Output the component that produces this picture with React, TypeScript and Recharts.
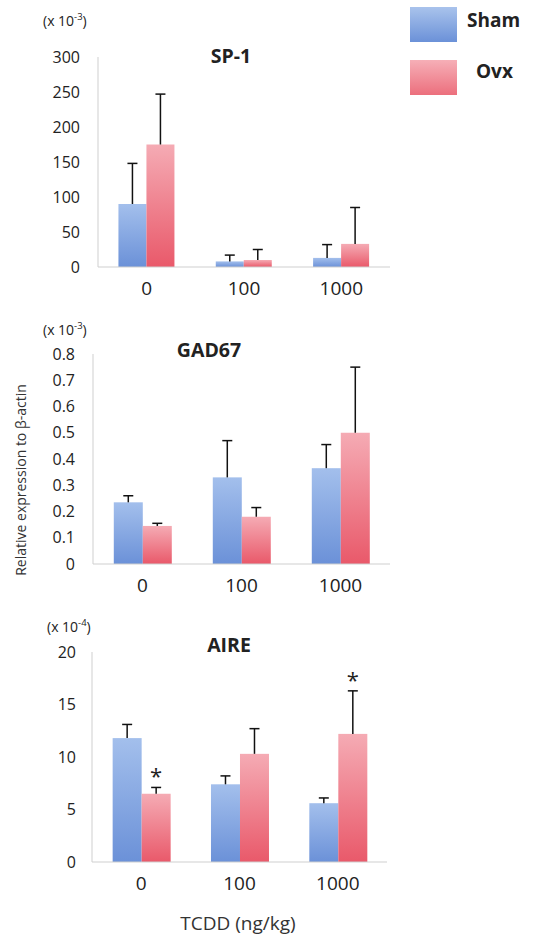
import React from "react";
import { BarChart, Bar, XAxis, YAxis } from "recharts";

const doses = ["0", "100", "1000"];

const sp1Sham = [90, 8, 13];
const sp1ShamSd = [58, 9, 19];
const sp1Ovx = [175, 10, 33];
const sp1OvxSd = [72, 15, 52];
const sp1Ticks = [0, 50, 100, 150, 200, 250, 300];

const gadSham = [0.235, 0.33, 0.365];
const gadShamSd = [0.025, 0.14, 0.09];
const gadOvx = [0.145, 0.18, 0.5];
const gadOvxSd = [0.01, 0.035, 0.25];
const gadTicks = [0, 0.1, 0.2, 0.3, 0.4, 0.5, 0.6, 0.7, 0.8];

const aireSham = [11.8, 7.4, 5.6];
const aireShamSd = [1.3, 0.8, 0.5];
const aireOvx = [6.5, 10.3, 12.2];
const aireOvxSd = [0.6, 2.4, 4.1];
const aireOvxSig = [true, false, true];
const aireTicks = [0, 5, 10, 15, 20];

const FONT = "'Open Sans', Lato, sans-serif";
const AXIS = "#cfcfcf";

function buildRows(sham, shamSd, ovx, ovxSd, sig?) {
  return doses.map((d, i) => ({
    dose: d,
    sham: sham[i],
    shamSd: shamSd[i],
    ovx: ovx[i],
    ovxSd: ovxSd[i],
    sig: sig ? sig[i] : false,
  }));
}

// bar rect + upward error whisker (scaled from the bar's own pixel height)
function barWithError(sdKey: string, fillId: string, withStar: boolean) {
  return (props: any) => {
    const { x, y, width, height, payload, value } = props;
    const v = Array.isArray(value) ? value[1] - value[0] : value;
    const ppu = v ? height / v : 0;
    const cx = x + width / 2;
    const top = y - payload[sdKey] * ppu;
    return (
      <g>
        <rect x={x} y={y} width={width} height={height} fill={`url(#${fillId})`} />
        <line x1={cx} x2={cx} y1={y} y2={top} stroke="#111" strokeWidth={1.5} />
        <line x1={cx - 5} x2={cx + 5} y1={top} y2={top} stroke="#111" strokeWidth={1.5} />
        {withStar && payload.sig && (
          <text x={cx} y={top - 3} textAnchor="middle" fontSize={22} fontFamily={FONT} fill="#222">
            *
          </text>
        )}
      </g>
    );
  };
}

function Grads({ id }: { id: string }) {
  return (
    <defs>
      <linearGradient id={`blue-${id}`} x1="0" y1="0" x2="0" y2="1">
        <stop offset="0%" stopColor="#a3bfec" />
        <stop offset="100%" stopColor="#6b91d8" />
      </linearGradient>
      <linearGradient id={`pink-${id}`} x1="0" y1="0" x2="0" y2="1">
        <stop offset="0%" stopColor="#f5abb4" />
        <stop offset="100%" stopColor="#e9596a" />
      </linearGradient>
    </defs>
  );
}

type PanelProps = {
  id: string;
  top: number;
  rows: any[];
  ticks: number[];
  margin: { top: number; right: number; bottom: number; left: number };
  tickGap: number;
};

function Panel({ id, top, rows, ticks, margin, tickGap }: PanelProps) {
  return (
    <div style={{ position: "absolute", left: 0, top }}>
      <BarChart
        width={550}
        height={300}
        data={rows}
        margin={margin}
        barCategoryGap="21%"
        barGap={0}
      >
        <Grads id={id} />
        <XAxis
          dataKey="dose"
          height={30}
          tickLine={false}
          tickSize={0}
          tickMargin={15}
          axisLine={{ stroke: AXIS }}
          tick={{ fill: "#222", fontSize: 19, fontFamily: FONT }}
        />
        <YAxis
          width={50}
          domain={[ticks[0], ticks[ticks.length - 1]]}
          ticks={ticks}
          interval={0}
          tickLine={false}
          tickSize={0}
          tickMargin={tickGap}
          axisLine={{ stroke: AXIS }}
          tick={{ fill: "#222", fontSize: 16, fontFamily: FONT }}
        />
        <Bar
          dataKey="sham"
          name="Sham"
          fill="#8aaee2"
          isAnimationActive={false}
          shape={barWithError("shamSd", `blue-${id}`, false)}
        />
        <Bar
          dataKey="ovx"
          name="Ovx"
          fill="#f08a96"
          isAnimationActive={false}
          shape={barWithError("ovxSd", `pink-${id}`, true)}
        />
      </BarChart>
    </div>
  );
}

function Unit({ x, y, exp }: { x: number; y: number; exp: string }) {
  return (
    <text x={x} y={y} fontSize={14} fontFamily={FONT} fill="#222">
      (x 10
      <tspan fontSize={9.5} dy={-6}>
        {exp}
      </tspan>
      <tspan dy={6}>)</tspan>
    </text>
  );
}

export default function App() {
  const sp1 = buildRows(sp1Sham, sp1ShamSd, sp1Ovx, sp1OvxSd);
  const gad = buildRows(gadSham, gadShamSd, gadOvx, gadOvxSd);
  const aire = buildRows(aireSham, aireShamSd, aireOvx, aireOvxSd, aireOvxSig);

  return (
    <div
      style={{
        position: "absolute",
        left: 0,
        top: 0,
        width: 550,
        height: 945,
        background: "#fff",
        fontFamily: FONT,
      }}
    >
      <Panel
        id="sp1"
        top={0}
        rows={sp1}
        ticks={sp1Ticks}
        margin={{ top: 57, right: 160, left: 48, bottom: 3 }}
        tickGap={18}
      />
      <Panel
        id="gad"
        top={300}
        rows={gad}
        ticks={gadTicks}
        margin={{ top: 54, right: 160, left: 43, bottom: 6 }}
        tickGap={18}
      />
      <Panel
        id="aire"
        top={600}
        rows={aire}
        ticks={aireTicks}
        margin={{ top: 52, right: 163, left: 42, bottom: 8 }}
        tickGap={16}
      />
      <svg
        width={550}
        height={945}
        style={{ position: "absolute", left: 0, top: 0, pointerEvents: "none" }}
      >
        <defs>
          <linearGradient id="lg-blue" x1="0" y1="0" x2="0" y2="1">
            <stop offset="0%" stopColor="#a9c3ec" />
            <stop offset="100%" stopColor="#6b91d8" />
          </linearGradient>
          <linearGradient id="lg-pink" x1="0" y1="0" x2="0" y2="1">
            <stop offset="0%" stopColor="#f6afb7" />
            <stop offset="100%" stopColor="#ec6f7d" />
          </linearGradient>
        </defs>
        {/* legend */}
        <rect x={410} y={7} width={47} height={35} fill="url(#lg-blue)" />
        <rect x={410} y={60} width={47} height={35} fill="url(#lg-pink)" />
        <text x={467} y={27} fontSize={19} fontWeight={700} fontFamily={FONT} fill="#222">
          Sham
        </text>
        <text x={476} y={78} fontSize={19} fontWeight={700} fontFamily={FONT} fill="#222">
          Ovx
        </text>

        <Unit x={43} y={26} exp="-3" />
        <Unit x={43} y={335} exp="-3" />
        <Unit x={47} y={632} exp="-4" />
        <text x={231} y={63} textAnchor="middle" fontSize={19.5} fontWeight={700} fontFamily={FONT} fill="#222">
          SP-1
        </text>
        <text x={209} y={357} textAnchor="middle" fontSize={19.5} fontWeight={700} fontFamily={FONT} fill="#222">
          GAD67
        </text>
        <text x={229} y={652} textAnchor="middle" fontSize={19.5} fontWeight={700} fontFamily={FONT} fill="#222">
          AIRE
        </text>
        <text
          x={0}
          y={0}
          transform="translate(26 480) rotate(-90)"
          textAnchor="middle"
          fontSize={14}
          fontFamily={FONT}
          fill="#333"
        >
          Relative expression to β-actin
        </text>
        <text x={238} y={930} textAnchor="middle" fontSize={19} fontFamily={FONT} fill="#333">
          TCDD (ng/kg)
        </text>
      </svg>
    </div>
  );
}
